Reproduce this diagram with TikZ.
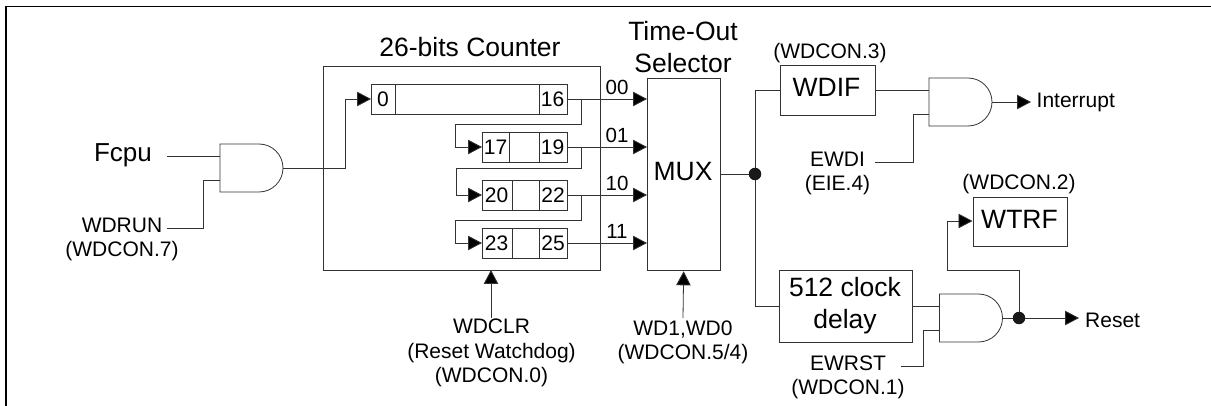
\documentclass[tikz,border=0pt]{standalone}
\usepackage{fontspec}
\setmainfont{Liberation Sans}
\usetikzlibrary{arrows.meta}
\tikzset{
  x=1pt,y=-1pt,
  wire/.style={draw=black!80,line width=0.8pt},
  arr/.style={wire,-{Triangle[length=14pt,width=14.5pt,fill=black]}},
  boxn/.style={draw=black!80,line width=0.8pt,fill=white,minimum width=0pt,inner sep=0pt,anchor=north west},
  lab/.style={inner sep=0pt,align=center,font=\fontsize{21}{24.5}\selectfont},
  big/.style={inner sep=0pt,align=center,font=\fontsize{26.5}{32}\selectfont},
  num/.style={inner sep=0pt,font=\fontsize{21}{24}\selectfont},
  dotn/.style={circle,fill=black!90,minimum size=12.5pt,inner sep=0pt},
}
\newcommand{\rbox}[5]{\node[boxn,minimum width=#4pt,minimum height=#5pt] (#1) at (#2,#3) {};}
% AND gate: name, x left, y top (width 63, height 48)
\newcommand{\andgate}[3]{%
  \coordinate (#1nw) at (#2,#3);
  \coordinate (#1sw) at (#2,#3+48);
  \coordinate (#1o) at (#2+63,#3+24);
  \coordinate (#1a) at (#2,#3+12);
  \coordinate (#1b) at (#2,#3+36);
  \draw[wire,fill=white] (#1nw) -- ++(39,0) arc[start angle=90,end angle=-90,radius=24pt] -- (#1sw) -- cycle;
}
\begin{document}
\begin{tikzpicture}
\useasboundingbox (0,0) rectangle (1211,406);
% frame
\draw[line width=1.9pt] (6,406) -- (6,6.5) -- (1211,6.5);
% input gate
\andgate{g1}{220}{144}
\node[big,anchor=base,font=\fontsize{26}{30}\selectfont] (fcpu) at (123,162) {Fcpu};
\node[lab] (wdrun) at (122,239.5) {WDRUN\\(WDCON.7)};
\coordinate (fcpuE) at (167,156);
\coordinate (wdrunE) at (167,228);
\draw[wire] (fcpuE) -- (g1a);
\draw[wire] (wdrunE) -| (203,180) -- (g1b);
% counter
\rbox{ctr}{323}{66.5}{276.5}{203.5}
\node[big] (ctitle) at (470,47) {26-bits Counter};
% registers
\rbox{r0}{371}{84.5}{196}{30}
\draw[wire] (395.5,84.5) -- (395.5,114.5) (539.5,84.5) -- (539.5,114.5);
\rbox{r1}{482}{132.5}{84.5}{30}
\draw[wire] (509,132.5) -- (509,162.5) (539.5,132.5) -- (539.5,162.5);
\rbox{r2}{482}{180.5}{84.5}{30}
\draw[wire] (512,180.5) -- (512,210.5) (539.5,180.5) -- (539.5,210.5);
\rbox{r3}{482}{228.5}{84.5}{30}
\draw[wire] (512,228.5) -- (512,258.5) (539.5,228.5) -- (539.5,258.5);
\node[num] (t0) at (383,99.5) {0};
\node[num] (t16) at (552.5,99.5) {16};
\node[num] (t17) at (495.5,147.5) {17};
\node[num] (t19) at (552.5,147.5) {19};
\node[num] (t20) at (496.5,195.5) {20};
\node[num] (t22) at (553,195.5) {22};
\node[num] (t23) at (496.5,243.5) {23};
\node[num] (t25) at (553,243.5) {25};
% mux
\rbox{mux}{647}{78.5}{72.5}{192}
\node[big] (muxt) at (683,172) {MUX};
\node[big] (sel) at (683,47.5) {Time-Out\\Selector};
% gate out to first reg
\coordinate (j0) at (345,99);
\draw[arr] (g1o) -| (j0) -- (r0.west |- j0);
% outputs
\draw[arr] (r0.east |- 0,99) -- (mux.west |- 0,99);
\draw[arr] (r1.east |- 0,147) -- (mux.west |- 0,147);
\draw[arr] (r2.east |- 0,195) -- (mux.west |- 0,195);
\draw[arr] (r3.east |- 0,243) -- (mux.west |- 0,243);
\node[num,font=\fontsize{20.5}{24}\selectfont] (n00) at (617,87) {00};
\node[num,font=\fontsize{20.5}{24}\selectfont] (n01) at (617,135) {01};
\node[num,font=\fontsize{20.5}{24}\selectfont] (n10) at (617,183) {10};
\node[num,font=\fontsize{20.5}{24}\selectfont] (n11) at (617,231) {11};
% cascade
\draw[arr] (581,99) |- (455,124.5) |- (r1.west |- 0,147);
\draw[arr] (581,147) |- (456,168) |- (r2.west |- 0,195);
\draw[arr] (581,195) |- (455,220.5) |- (r3.west |- 0,243);
% bottom labels
\node[lab] (clr) at (491.5,353) {WDCLR\\(Reset Watchdog)\\(WDCON.0)};
\coordinate (clrT) at (491,318);
\draw[arr] (clrT) -- (491,270);
\node[lab] (wd) at (683,342.5) {WD1,WD0\\(WDCON.5/4)};
\coordinate (wdT) at (683,318);
\draw[arr] (wdT) -- (mux.south);
% splitter
\node[dotn] (d1) at (755,174) {};
\draw[wire] (mux.east |- d1) -- (d1);
\rbox{wdif}{780}{65.5}{94.5}{49.5}
\node[big] (wdift) at (826.5,87.5) {WDIF};
\node[lab] (wc3) at (830,53.5) {(WDCON.3)};
\rbox{dly}{779}{270}{132.5}{72}
\node[big] (dlyt) at (845,306) {512 clock\\delay};
\draw[wire] (wdif.west |- 0,90) -| (d1);
\draw[wire] (dly.west |- 0,306) -| (d1);
% gate 2
\andgate{g2}{929}{78}
\draw[wire] (wdif.east |- 0,90) -- (g2a);
\coordinate (ewdiE) at (875,162);
\draw[wire] (ewdiE) -| (913,114) -- (g2b);
\node[lab] (ewdi) at (837.5,173.5) {EWDI\\(EIE.4)};
\coordinate (intE) at (1031,102);
\draw[arr] (g2o) -- (intE);
\node[lab,anchor=west] (intr) at (1036.5,102) {Interrupt};
% gate 3
\andgate{g3}{939.5}{294}
\draw[wire] (dly.east |- 0,306) -- (g3a);
\coordinate (ewrstE) at (901,366);
\draw[wire] (ewrstE) -| (923,330) -- (g3b);
\node[lab] (ewrst) at (848,377.5) {EWRST\\(WDCON.1)};
\node[dotn] (d2) at (1019,318) {};
\draw[wire] (g3o) -- (d2);
\coordinate (rstE) at (1079,318);
\draw[arr] (d2) -- (rstE);
\node[lab,anchor=west] (rst) at (1085,320) {Reset};
\rbox{wtrf}{972.5}{197}{94.5}{49}
\node[big] (wtrft) at (1019.5,219.5) {WTRF};
\node[lab] (wc2) at (1019,184.5) {(WDCON.2)};
\draw[arr] (d2) |- (947,270) |- (wtrf.west |- 0,221);
\end{tikzpicture}
\end{document}
